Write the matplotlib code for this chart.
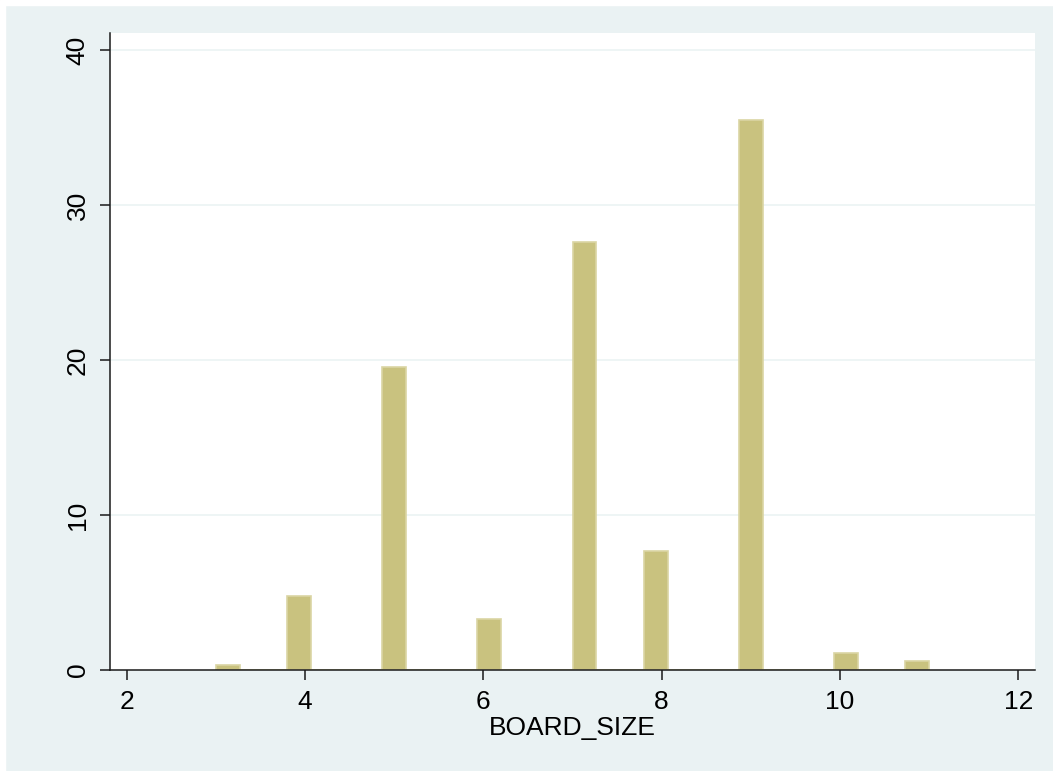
import numpy as np
import matplotlib
matplotlib.use("Agg")
import matplotlib.pyplot as plt
from matplotlib.patches import Rectangle

board_size = [3, 4, 5, 6, 7, 8, 9, 10, 11]
percent = [0.32, 4.8, 19.57, 3.27, 27.6, 7.7, 35.46, 1.07, 0.6]
n_bins = 30
x_ticks = [2, 4, 6, 8, 10, 12]
y_ticks = [0, 10, 20, 30, 40]

BG = "#EAF2F3"
FILL = "#C9C27F"
EDGE = "#DAD5A4"

plt.rcParams["font.family"] = ["Liberation Sans", "DejaVu Sans"]

fig = plt.figure(figsize=(10.53, 7.71), dpi=100, facecolor=BG)
# thin white strip on the top and left edges of the image
fig.patches.append(Rectangle((0, 0), 5 / 1053, 1, transform=fig.transFigure,
                             color="white", zorder=-1))
fig.patches.append(Rectangle((0, 1 - 5 / 771), 1, 5 / 771, transform=fig.transFigure,
                             color="white", zorder=-1))

ax = fig.add_axes([110 / 1053, 1 - 670 / 771, 925 / 1053, 637 / 771])
ax.set_facecolor("white")

ax.hist(board_size, bins=n_bins, range=(3, 11), weights=percent,
        color=FILL, edgecolor=EDGE, linewidth=1.2, zorder=3)

ax.set_xlim(1.813, 12.187)
ax.set_ylim(0, 41.1)
ax.set_xticks(x_ticks)
ax.set_yticks(y_ticks)
ax.set_yticklabels([str(v) for v in y_ticks], rotation=90, va="center")

for v in y_ticks[1:]:
    ax.axhline(v, color=BG, linewidth=1.1, zorder=1)

for side in ["top", "right"]:
    ax.spines[side].set_visible(False)
for side in ["left", "bottom"]:
    ax.spines[side].set_linewidth(1.1)
    ax.spines[side].set_color("#1a1a1a")
    ax.spines[side].set_zorder(4)

ax.tick_params(axis="both", direction="out", length=7.5, width=1.1,
               color="#1a1a1a", labelsize=19, pad=7)

ax.set_xlabel("BOARD_SIZE", fontsize=19, labelpad=1)

fig.savefig("out.png", dpi=100, facecolor=BG)
